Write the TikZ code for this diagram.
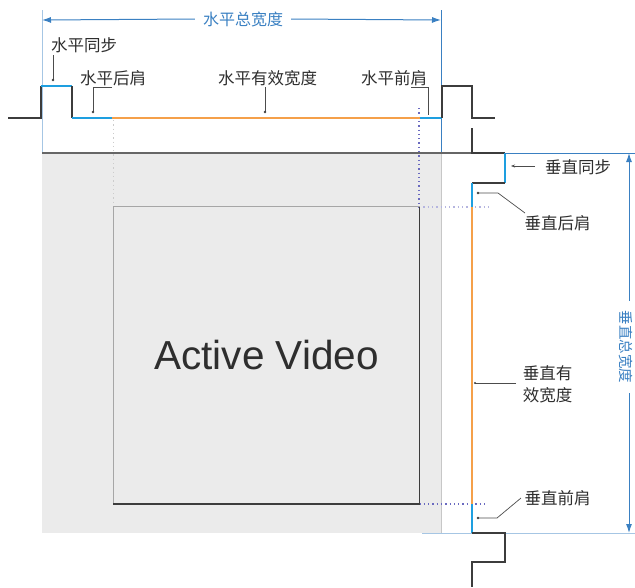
\documentclass[tikz,border=0pt]{standalone}
\usepackage{fontspec}
\setmainfont{Liberation Sans}
\newfontfamily\cjk{Noto Sans CJK SC}
\usetikzlibrary{arrows.meta}
\definecolor{dimblue}{HTML}{3A80C2}
\definecolor{sigblue}{HTML}{1E9FE0}
\definecolor{sigorange}{HTML}{F5A04A}
\definecolor{wave}{HTML}{3C3C3C}
\definecolor{panel}{HTML}{EBEBEB}
\definecolor{dotblue}{HTML}{6A6AC0}
\definecolor{txt}{HTML}{2E2E2E}
\tikzset{
  lbl/.style={font=\cjk\fontsize{16.5}{22}\selectfont, text=txt, inner sep=0pt, align=left},
  dimlbl/.style={font=\cjk\fontsize{16}{20}\selectfont, text=dimblue, inner sep=8pt},
  wavel/.style={draw=wave, line width=1.6pt, line join=miter},
  bluel/.style={draw=sigblue, line width=1.8pt},
  orangel/.style={draw=sigorange, line width=1.8pt},
  leader/.style={draw=black!70, line width=0.7pt},
  dotend/.style={fill=black!75},
  dimline/.style={draw=dimblue, line width=1pt},
  extline/.style={draw=dimblue!45, line width=1pt},
  dotline/.style={draw=dotblue, line width=1.1pt, dash pattern=on 1.3pt off 3pt},
  faintdot/.style={draw=black!20, line width=1pt, dash pattern=on 1.3pt off 3pt}
}
\begin{document}
\begin{tikzpicture}[x=1pt,y=-1pt]
\useasboundingbox (0,0) rectangle (635,587);

% grey panel
\fill[panel] (42,153) rectangle (441,533);
\draw[black!22, line width=1pt] (441,153) -- (441,533);

% extension lines
\draw[extline] (42,10) -- (42,153);
\draw[dimline, line width=0.8pt] (441,10) -- (441,153);
\draw[extline] (422,533) -- (635,533);

% top border of panel
\draw[black!60, line width=1.4pt] (42,153) -- (472,153);

% faint / dotted guides
\draw[faintdot] (113,120) -- (113,207);
\draw[dotline] (419,108) -- (419,207);
\draw[dotline, draw=dotblue!50] (419,207) -- (490,207);
\draw[dotline] (385,504) -- (488,504);

% Active video box
\node[minimum width=306pt, minimum height=297pt, inner sep=0pt,
      font=\fontsize{40.5}{44}\selectfont, text=txt] (av) at (266.5,355.5) {Active Video};
\draw[black!35, line width=1pt] (av.north east) -- (av.north west) -- (av.south west);
\draw[wave, line width=1.5pt] (av.south west) -- (av.south east) -- (av.north east);

% horizontal waveform
\coordinate (h0) at (8,118);
\coordinate (h1) at (41,118);
\coordinate (h2) at (41,86);
\coordinate (h3) at (72,86);
\coordinate (h4) at (72,118);
\coordinate (h5) at (112,118);
\coordinate (h6) at (420,118);
\coordinate (h7) at (442,118);
\coordinate (h8) at (442,86);
\coordinate (h9) at (472,86);
\coordinate (h10) at (472,118);
\coordinate (h11) at (495,118);
\draw[wavel] (h0) -- (h1) -- (h2);
\draw[bluel] (h2) -- (h3);
\draw[wavel] (h3) -- (h4);
\draw[bluel] (h4) -- (h5);
\draw[orangel] (h5) -- (h6);
\draw[bluel] (h6) -- (h7);
\draw[wavel] (h7) -- (h8) -- (h9) -- (h10) -- (h11);

% vertical waveform
\coordinate (v0) at (472,128);
\coordinate (v1) at (472,153);
\coordinate (v2) at (505,153);
\coordinate (v3) at (505,183);
\coordinate (v4) at (472,183);
\coordinate (v5) at (472,207);
\coordinate (v6) at (472,504);
\coordinate (v7) at (472,533);
\coordinate (v8) at (505,533);
\coordinate (v9) at (505,562);
\coordinate (v10) at (472,562);
\coordinate (v11) at (472,587);
\draw[wavel] (v0) -- (v1) -- (v2);
\draw[bluel] (v2) -- (v3);
\draw[wavel] (v3) -- (v4);
\draw[bluel] (v4) -- (v5);
\draw[orangel] (v5) -- (v6);
\draw[bluel] (v6) -- (v7);
\draw[wavel] (v7) -- (v8) -- (v9) -- (v10) -- (v11);
\draw[dimline, line width=0.9pt] (v2) -- (635,153);

% horizontal total dimension
\coordinate (ta) at (42,20);
\coordinate (tb) at (441,20);
\node[dimlbl] (ht) at (243,19) {水平总宽度};
\draw[dimline, {Latex[length=9pt,width=6pt]}-] (ta) -- (ht.west);
\draw[dimline, -{Latex[length=9pt,width=6pt]}] (ht.east) -- (tb);

% vertical total dimension
\coordinate (va) at (629,153);
\coordinate (vb) at (629,533);
\node[dimlbl, font=\cjk\fontsize{14.5}{18}\selectfont, rotate=-90, inner sep=10pt] (vt) at (626,347) {垂直总宽度};
\draw[dimline, {Latex[length=9pt,width=6pt]}-] (va) -- (va |- vt.west);
\draw[dimline, -{Latex[length=9pt,width=6pt]}] (vb |- vt.east) -- (vb);

% labels
\node[lbl] (l1) at (84,45) {水平同步};
\node[lbl] (l2) at (113,78) {水平后肩};
\node[lbl] (l3) at (267.5,78) {水平有效宽度};
\node[lbl] (l4) at (394,78) {水平前肩};
\node[lbl] (l5) at (578,167) {垂直同步};
\node[lbl] (l6) at (557.5,223) {垂直后肩};
\node[lbl] (l7) at (547.5,384) {垂直有\\效宽度};
\node[lbl] (l8) at (557.5,498) {垂直前肩};

% leaders
\coordinate (p1) at (53,80);
\draw[leader] (53,55) -- (p1);
\fill[dotend] (p1) circle (1.3pt);

\coordinate (p2) at (93,112);
\draw[leader] (112,87) -- (93,87) -- (p2);
\fill[dotend] (p2) circle (1.3pt);

\coordinate (p3) at (265,112);
\draw[leader] (265,87) -- (p3);
\fill[dotend] (p3) circle (1.3pt);

\coordinate (p4) at (428,115);
\draw[leader] (411,87) -- (428,87) -- (p4);

\coordinate (p5) at (511,166);
\draw[leader, -{Stealth[length=4pt,width=3pt]}] (535,166) -- (p5);

\coordinate (p6) at (478,193);
\draw[leader] (525,213) -- (498,193) -- (p6);
\fill[dotend] (p6) circle (1.3pt);

\coordinate (p7) at (475,383);
\draw[leader] (516,383) -- (p7);
\fill[dotend] (p7) circle (1.2pt);

\coordinate (p8) at (478,518);
\draw[leader] (521,498) -- (497,518) -- (p8);
\fill[dotend] (p8) circle (1.3pt);
\end{tikzpicture}
\end{document}
